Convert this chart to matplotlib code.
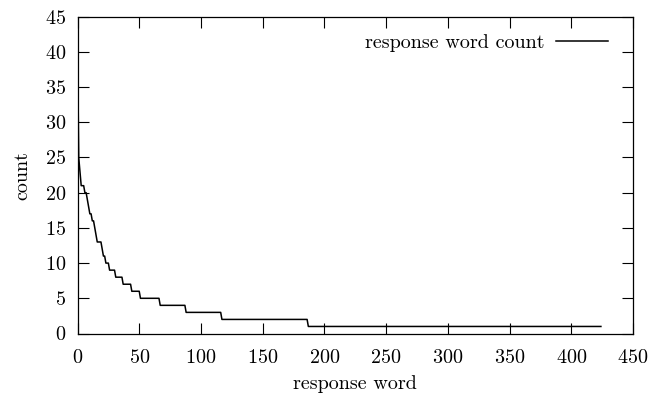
import numpy as np
import matplotlib
matplotlib.use("Agg")
import matplotlib.pyplot as plt

# count value and how many response words share that count (descending rank order)
count_values = [41, 25, 23, 21, 20, 19, 18, 17, 16, 15, 14, 13, 12, 11, 10, 9, 8, 7, 6, 5, 4, 3, 2, 1]
words_per_count = [1, 1, 1, 3, 2, 1, 1, 2, 2, 1, 1, 4, 1, 2, 3, 5, 6, 7, 7, 16, 21, 29, 70, 238]

counts = np.repeat(count_values, words_per_count)
ranks = np.arange(len(counts))

x_ticks = [0, 50, 100, 150, 200, 250, 300, 350, 400, 450]
y_ticks = [0, 5, 10, 15, 20, 25, 30, 35, 40, 45]

plt.rcParams['font.family'] = ['cmr10', 'DejaVu Serif']
plt.rcParams['axes.formatter.use_mathtext'] = True
plt.rcParams['font.size'] = 14.5

fig = plt.figure(figsize=(6.51, 3.95), dpi=100)
ax = fig.add_axes([77.5 / 651, 1 - 333.5 / 395, (633 - 77.5) / 651, (333.5 - 16.7) / 395])

ax.plot(ranks, counts, color='black', lw=1.1, label='response word count')

ax.set_xlim(0, 450)
ax.set_ylim(0, 45)
ax.set_xticks(x_ticks)
ax.set_yticks(y_ticks)
ax.tick_params(direction='in', length=8, width=0.8, top=True, right=True)
ax.tick_params(axis='x', pad=11)
ax.tick_params(axis='y', pad=8)
for s in ax.spines.values():
    s.set_linewidth(0.9)

ax.set_xlabel('response word', labelpad=6)
ax.set_ylabel('count', labelpad=10)

leg = ax.legend(loc='upper right', bbox_to_anchor=(0.955, 0.946), markerfirst=False,
                frameon=False, handlelength=2.6, borderpad=0, borderaxespad=0,
                handletextpad=0.55)

fig.savefig('out.png', dpi=100)
